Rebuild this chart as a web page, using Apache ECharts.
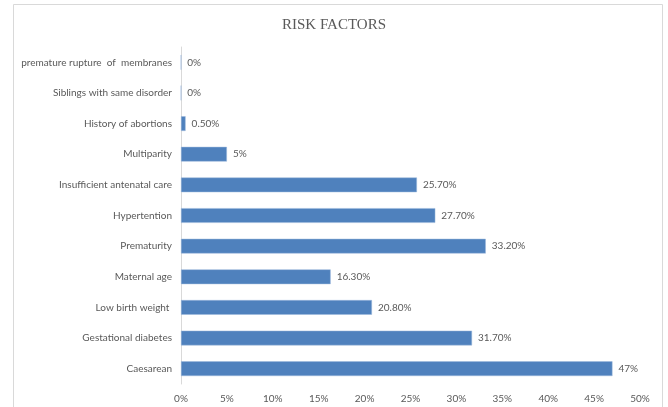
<!DOCTYPE html>
<html><head><meta charset="utf-8">
<script src="https://cdn.jsdelivr.net/npm/echarts@6/dist/echarts.min.js"></script>
<style>html,body{margin:0;padding:0;background:#fff}#c{width:668px;height:407px}</style>
</head><body><div id="c"></div>
<script>
const categories = ["premature rupture  of  membranes","Siblings with same disorder","History of abortions","Multiparity","Insufficient antenatal care","Hypertention","Prematurity","Maternal age","Low birth weight ","Gestational diabetes","Caesarean"];
const values = [0, 0, 0.5, 5, 25.7, 27.7, 33.2, 16.3, 20.8, 31.7, 47];
const valueLabels = ["0%","0%","0.50%","5%","25.70%","27.70%","33.20%","16.30%","20.80%","31.70%","47%"];
const xTicks = {min: 0, max: 50, interval: 5};
const titleText = "RISK FACTORS";

const chart = echarts.init(document.getElementById('c'), null, {renderer: 'canvas'});
const font = 'Lato, Liberation Sans, sans-serif';
chart.setOption({
  animation: false,
  backgroundColor: '#fff',
  title: {text: titleText, left: 'center', top: 13,
    textStyle: {fontFamily: 'Liberation Serif, DejaVu Serif, serif', fontWeight: 'normal', fontSize: 15, color: '#595959'}},
  graphic: [{type: 'rect', shape: {x: 13.5, y: 4.5, width: 649, height: 410},
    style: {fill: 'none', stroke: '#D9D9D9', lineWidth: 1}, silent: true}],
  grid: {left: 181, right: 28, top: 47, bottom: 23, containLabel: false},
  xAxis: {type: 'value', min: xTicks.min, max: xTicks.max, interval: xTicks.interval,
    axisLine: {show: false}, axisTick: {show: false}, splitLine: {show: false},
    axisLabel: {formatter: '{value}%', color: '#595959', fontSize: 10, fontFamily: font, margin: 10}},
  yAxis: {type: 'category', data: categories, inverse: true,
    axisLine: {show: true, lineStyle: {color: '#D9D9D9', width: 1}}, axisTick: {show: false},
    axisLabel: {color: '#595959', fontSize: 10, fontFamily: font, margin: 9}},
  series: [{type: 'bar', data: values, barCategoryGap: '52%',
    itemStyle: {color: '#4F81BD', borderColor: '#9DB8DC', borderWidth: 0.5},
    label: {show: true, position: 'right', distance: 6, color: '#595959', fontSize: 10,
      fontFamily: font, formatter: p => valueLabels[p.dataIndex]}}]
});
</script></body></html>
